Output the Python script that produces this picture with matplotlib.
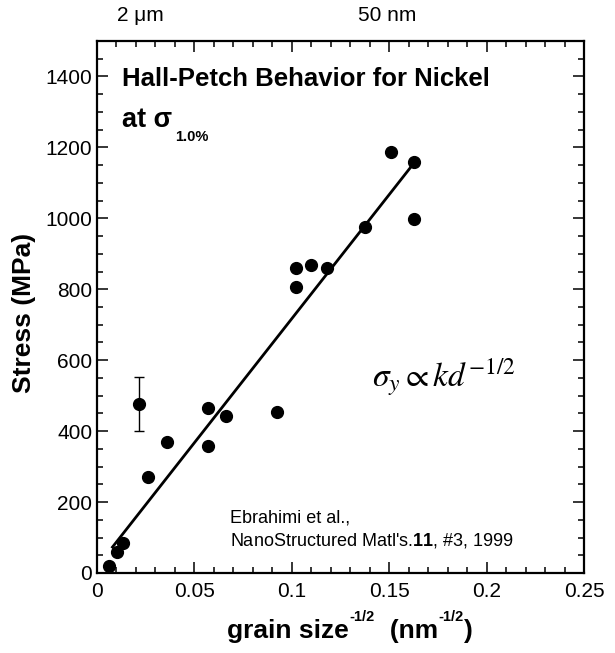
import matplotlib
matplotlib.use("Agg")
import matplotlib.pyplot as plt
import matplotlib.transforms as mtransforms
from matplotlib.ticker import MultipleLocator, FormatStrFormatter

plt.rcParams['font.family'] = ['Liberation Sans', 'DejaVu Sans']
plt.rcParams['mathtext.fontset'] = 'custom'
plt.rcParams['mathtext.rm'] = 'Liberation Sans'
plt.rcParams['mathtext.bf'] = 'Liberation Sans:bold'
plt.rcParams['mathtext.it'] = 'Liberation Sans:italic'

# data
grain_x = [0.0063, 0.0101, 0.0132, 0.0264, 0.0358, 0.0568, 0.0568, 0.0663,
           0.0926, 0.1021, 0.1021, 0.1101, 0.1180, 0.1378, 0.1510, 0.1629, 0.1625]
stress_y = [20, 60, 84, 272, 368, 464, 358, 443,
            455, 859, 806, 869, 860, 976, 1188, 1159, 998]
err_x = [0.0217]
err_y = [476]
err_size = [76]
fit_x = [0.0075, 0.1633]
fit_y = [70, 1160]
top_labels = ['2 \u03bcm', '50 nm']
top_pos = [0.0224, 0.1488]

W, H = 615, 653
fig = plt.figure(figsize=(W/100, H/100), dpi=100)
ax = fig.add_axes([97/W, 1 - 573/H, 487/W, 532/H])

ax.plot(fit_x, fit_y, color='k', lw=2.0, solid_capstyle='butt')
ax.plot(grain_x, stress_y, 'o', color='k', ms=8.5)
ax.errorbar(err_x, err_y, yerr=err_size, fmt='o', color='k', ms=8.5,
            capsize=3.5, elinewidth=1.0, capthick=1.0)

ax.set_xlim(0, 0.25)
ax.set_ylim(0, 1500)
ax.xaxis.set_major_locator(MultipleLocator(0.05))
ax.xaxis.set_minor_locator(MultipleLocator(0.01))
ax.yaxis.set_major_locator(MultipleLocator(200))
ax.yaxis.set_minor_locator(MultipleLocator(50))
ax.xaxis.set_major_formatter(FormatStrFormatter('%g'))
ax.yaxis.set_major_formatter(FormatStrFormatter('%g'))
ax.tick_params(which='both', direction='in', top=True, right=True, width=1.1)
ax.tick_params(which='major', length=8)
ax.tick_params(which='minor', length=4.5)
ax.tick_params(axis='x', which='major', labelsize=15, pad=6.5)
ax.tick_params(axis='y', which='major', labelsize=15, pad=3.5)
for sp in ax.spines.values():
    sp.set_linewidth(1.6)

# titles inside the box
ax.text(0.0127, 1373, 'Hall-Petch Behavior for Nickel', fontsize=18.5,
        fontweight='bold', va='baseline')
ax.text(0.0127, 1257, 'at \u03c3', fontsize=19.5, fontweight='bold', va='baseline')
ax.text(0.0400, 1218, '1.0%', fontsize=10.5, fontweight='bold', va='baseline')

ax.text(0.1410, 527, r'$\sigma_y \propto kd^{-1/2}$', fontsize=24,
        math_fontfamily='stix', va='baseline')

ax.text(0.0683, 156, 'Ebrahimi et al.,', fontsize=13, va='center')
ax.text(0.0683, 93, r"NanoStructured Matl's.$\mathbf{11}$, #3, 1999",
        fontsize=13, va='center')

# top scale labels
trans = mtransforms.blended_transform_factory(ax.transData, fig.transFigure)
for lab, pos in zip(top_labels, top_pos):
    ax.text(pos, 1 - 15.8/H, lab, transform=trans, fontsize=15,
            ha='center', va='center')

# x label built piece by piece so the superscripts sit high and small
renderer = fig.canvas.get_renderer()
xpos = 227
pieces = [('grain size', 19, 0), ('-1/2', 10.5, 17), ('  (nm', 19, 0),
          ('-1/2', 10.5, 17), (')', 19, 0)]
for s, fs, rise in pieces:
    t = fig.text(xpos/W, 1 - (638 - rise)/H, s, fontsize=fs, fontweight='bold',
                 ha='left', va='baseline')
    xpos = t.get_window_extent(renderer).x1 + 0.5

fig.text(24/W, 1 - 313/H, 'Stress (MPa)', fontsize=19, fontweight='bold',
         rotation=90, ha='center', va='center')

fig.savefig('out.png', dpi=100)
